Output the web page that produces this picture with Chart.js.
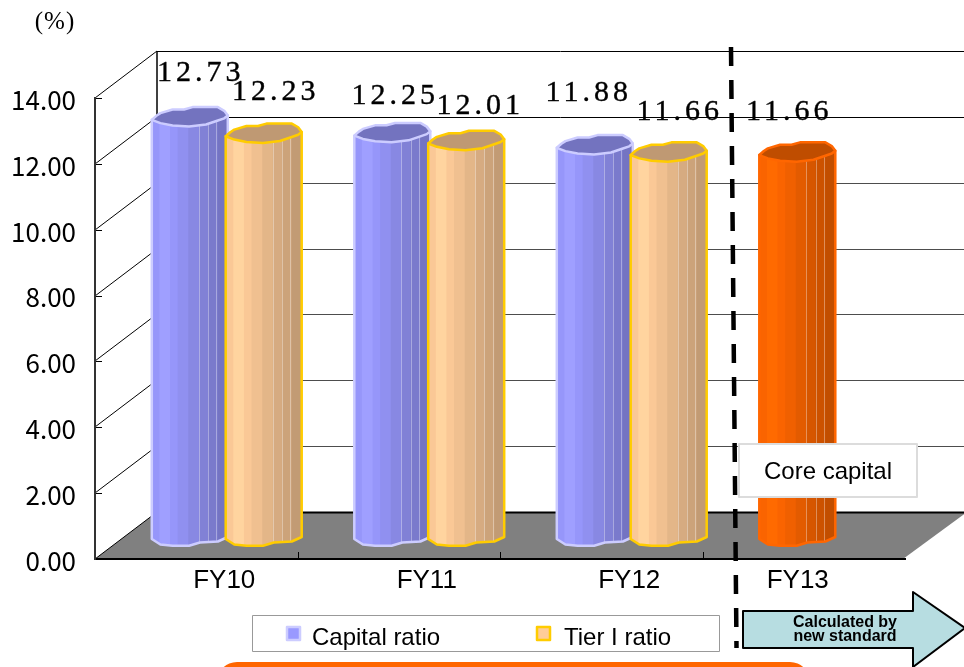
<!DOCTYPE html>
<html>
<head>
<meta charset="utf-8">
<style>html,body{margin:0;padding:0;background:#fff}canvas{display:block}</style>
<script src="https://cdn.jsdelivr.net/npm/chart.js@4"></script>
</head>
<body>
<canvas id="ratios" width="964" height="667"></canvas>
<script>
// Capital adequacy figures by fiscal year
const categories = ['FY10', 'FY11', 'FY12', 'FY13'];
const capitalRatio = [12.73, 12.25, 11.88, 11.66];
const tierOneRatio = [12.23, 12.01, 11.66, null];
const yTicks = [0, 2, 4, 6, 8, 10, 12, 14];
const seriesNames = ['Capital ratio', 'Tier I ratio'];

// Fills and outlines; the FY13 column is on the new standard and gets its own colour
const BLUE = '#9999ff', BLUE_EDGE = '#ccccff';
const TAN = '#ffcc99', TAN_EDGE = '#ffcc00';
const ORANGE = '#ff6600', ORANGE_EDGE = '#ff6600';

// Oblique projection of the box the columns stand in
const DEPTH_X = 62, DEPTH_Y = 47;
const BAR_SHIFT_X = 30.5, BAR_SHIFT_Y = 23;

// Outline of a column cap, px from its centre at a 75px column width
const CAP = [[-37.5,3],[-33,-1],[-29,-3.7],[-17,-7.3],[-5.7,-7.3],[2.7,-9.7],[27.7,-9.7],[34,-6],[37.5,-1.3],
             [34,1.5],[27.7,3.7],[16,7.7],[-0.7,9.7],[-17,8.7],[-29,6.3]];
const UNDER = [[-37.5,3],[-29,8.5],[-17,9.7],[-0.7,9.7],[10,6.5],[27.7,5.5],[37.5,1]];
// Shading bands across a column: [start fraction, brightness]
const BANDS = [[0,.98],[.1,1.04],[.24,.98],[.34,.94],[.48,.89],[.62,.84],[.74,.8],[.87,.76]];
const FACETS = [.62, .74, .85];

// Label nudges from the top of each column, per series
const LABEL_SHIFT = [
  [[11,-44],[3,-37],[-6,-52],[-8,-40]],
  [[12,-41],[14,-34],[11,-40]]
];

function shade(hex, k) {
  const n = parseInt(hex.slice(1), 16);
  const c = s => Math.min(255, Math.round(((n >> s) & 255) * k));
  return `rgb(${c(16)},${c(8)},${c(0)})`;
}

function trace(ctx, pts, cx, cy, scale, first) {
  pts.forEach(([dx, dy], i) => {
    const x = cx + dx * scale, y = cy + dy;
    if (first && i === 0) ctx.moveTo(x, y); else ctx.lineTo(x, y);
  });
}

function drawColumn(ctx, el) {
  const w = 76, scale = w / 75;
  const cx = el.x + BAR_SHIFT_X, top = el.y - BAR_SHIFT_Y, bottom = el.base - BAR_SHIFT_Y;
  const fill = el.options.backgroundColor, edge = el.options.borderColor;
  const left = cx - w / 2;
  const body = () => {
    ctx.beginPath();
    ctx.moveTo(left, top + 3);
    trace(ctx, UNDER, cx, bottom, scale, false);
    ctx.lineTo(left + w, top - 1.3);
    ctx.closePath();
  };
  ctx.save();
  body();
  ctx.clip();
  BANDS.forEach(([f, k], i) => {
    const next = i + 1 < BANDS.length ? BANDS[i + 1][0] : 1;
    ctx.fillStyle = shade(fill, k);
    ctx.fillRect(left + f * w, top - 12, (next - f) * w + 1, bottom - top + 30);
  });
  ctx.strokeStyle = 'rgba(255,255,255,.35)';
  ctx.lineWidth = 1;
  FACETS.forEach(f => {
    ctx.beginPath();
    ctx.moveTo(Math.round(left + f * w) + .5, top);
    ctx.lineTo(Math.round(left + f * w) + .5, bottom + 8);
    ctx.stroke();
  });
  ctx.restore();
  ctx.lineWidth = 2.5;
  ctx.lineJoin = 'round';
  ctx.strokeStyle = edge;
  body();
  ctx.stroke();
  ctx.beginPath();
  trace(ctx, CAP, cx, top, scale, true);
  ctx.closePath();
  ctx.fillStyle = shade(fill, .75);
  ctx.fill();
  ctx.stroke();
}

const boxPlugin = {
  id: 'box3d',
  beforeDraw(chart) {
    const { ctx, chartArea: a, scales: { x, y } } = chart;
    // FY13 sits under its own column rather than at the regular spacing
    x.getLabelItems()[3].options.translation[0] -= 34;
    ctx.save();
    ctx.fillStyle = '#808080';
    ctx.beginPath();
    ctx.moveTo(a.left, a.bottom);
    ctx.lineTo(a.right - 2, a.bottom);
    ctx.lineTo(a.right + DEPTH_X, a.bottom - DEPTH_Y);
    ctx.lineTo(a.left + DEPTH_X, a.bottom - DEPTH_Y);
    ctx.closePath();
    ctx.fill();
    ctx.lineWidth = 1;
    yTicks.forEach(v => {
      const py = Math.round(y.getPixelForValue(v));
      const by = py - DEPTH_Y;
      ctx.strokeStyle = (v === 0 || v >= 12) ? '#000' : '#4d4d4d';
      ctx.lineWidth = v === 0 ? 2 : 1;
      ctx.beginPath();
      ctx.moveTo(a.left + DEPTH_X, by + .5);
      ctx.lineTo(964, by + .5);
      ctx.stroke();
      ctx.strokeStyle = '#000';
      ctx.lineWidth = 1;
      ctx.beginPath();
      ctx.moveTo(a.left, py);
      ctx.lineTo(a.left + DEPTH_X, by);
      ctx.moveTo(a.left, py + .5);
      ctx.lineTo(a.left + 7, py + .5);
      ctx.stroke();
    });
    ctx.lineWidth = 1.5;
    ctx.beginPath();
    ctx.moveTo(a.left + DEPTH_X, y.getPixelForValue(14) - DEPTH_Y);
    ctx.lineTo(a.left + DEPTH_X, a.bottom - DEPTH_Y);
    ctx.stroke();
    ctx.lineWidth = 1;
    categories.forEach((_, i) => {
      if (!i) return;
      const px = Math.round(x.getPixelForValue(i) - (x.getPixelForValue(1) - x.getPixelForValue(0)) / 2) + .5;
      ctx.beginPath();
      ctx.moveTo(px, a.bottom);
      ctx.lineTo(px, a.bottom - 7);
      ctx.stroke();
    });
    ctx.restore();
  },
  beforeDatasetsDraw(chart) {
    const ctx = chart.ctx;
    [0, 1].forEach(d => chart.getDatasetMeta(d).data.forEach((el, i) => {
      if (chart.data.datasets[d].data[i] != null) drawColumn(ctx, el);
    }));
    return false;
  },
  afterDraw(chart) {
    const ctx = chart.ctx;
    ctx.save();

    // Value labels
    ctx.font = '30px "Liberation Serif"';
    ctx.fillStyle = '#000';
    ctx.strokeStyle = '#000';
    ctx.lineWidth = 0.4;
    ctx.textAlign = 'center';
    ctx.textBaseline = 'middle';
    ctx.letterSpacing = '4px';
    [0, 1].forEach(d => chart.getDatasetMeta(d).data.forEach((el, i) => {
      const v = chart.data.datasets[d].data[i];
      if (v == null) return;
      const [dx, dy] = LABEL_SHIFT[d][i];
      const lx = el.x + BAR_SHIFT_X + dx, ly = el.y - BAR_SHIFT_Y + dy;
      ctx.fillText(v.toFixed(2), lx, ly);
      ctx.strokeText(v.toFixed(2), lx, ly);
    }));
    ctx.letterSpacing = '0px';

    // Unit
    ctx.font = '25px "Liberation Serif"';
    ctx.letterSpacing = '1px';
    ctx.fillText('(%)', 55, 22);
    ctx.letterSpacing = '0px';

    // Divider between the two reporting standards
    ctx.strokeStyle = '#000';
    ctx.lineWidth = 4.5;
    ctx.setLineDash([19, 14]);
    ctx.beginPath();
    ctx.moveTo(731, 47);
    ctx.lineTo(736.5, 648);
    ctx.stroke();
    ctx.setLineDash([]);

    // Core capital callout
    ctx.fillStyle = '#fff';
    ctx.strokeStyle = '#dcdcdc';
    ctx.lineWidth = 2;
    ctx.fillRect(739, 444, 178, 53);
    ctx.strokeRect(739, 444, 178, 53);
    ctx.fillStyle = '#000';
    ctx.font = '24px "Liberation Sans"';
    ctx.fillText('Core capital', 828, 472);

    // Arrow pointing at the new-standard period
    ctx.fillStyle = '#b7dde1';
    ctx.strokeStyle = '#000';
    ctx.lineWidth = 2;
    ctx.beginPath();
    ctx.moveTo(743, 611);
    ctx.lineTo(913, 611);
    ctx.lineTo(913, 592);
    ctx.lineTo(965, 628);
    ctx.lineTo(913, 667);
    ctx.lineTo(913, 648);
    ctx.lineTo(743, 648);
    ctx.closePath();
    ctx.fill();
    ctx.stroke();
    ctx.fillStyle = '#000';
    ctx.font = 'bold 16px "Liberation Sans"';
    ctx.fillText('Calculated by', 845, 623);
    ctx.fillText('new standard', 845, 637);

    // Legend
    ctx.fillStyle = '#fff';
    ctx.strokeStyle = '#999';
    ctx.lineWidth = 1;
    ctx.fillRect(252.5, 615.5, 467, 36);
    ctx.strokeRect(252.5, 615.5, 467, 36);
    ctx.textAlign = 'left';
    ctx.font = '24px "Liberation Sans"';
    ctx.lineWidth = 2.5;
    [[287, 312, BLUE, BLUE_EDGE], [537, 564, TAN, TAN_EDGE]].forEach(([mx, tx, f, e], i) => {
      ctx.fillStyle = f;
      ctx.strokeStyle = e;
      ctx.fillRect(mx, 627, 13, 13);
      ctx.strokeRect(mx, 627, 13, 13);
      ctx.fillStyle = '#000';
      ctx.fillText(seriesNames[i], tx, 638);
    });

    // Banner running off the bottom edge
    ctx.fillStyle = '#ff6600';
    ctx.beginPath();
    ctx.roundRect(217, 662, 593, 40, 20);
    ctx.fill();
    ctx.restore();
  }
};

new Chart(document.getElementById('ratios'), {
  type: 'bar',
  data: {
    labels: categories,
    datasets: [
      { label: seriesNames[0], data: capitalRatio,
        backgroundColor: [BLUE, BLUE, BLUE, ORANGE],
        borderColor: [BLUE_EDGE, BLUE_EDGE, BLUE_EDGE, ORANGE_EDGE] },
      { label: seriesNames[1], data: tierOneRatio,
        backgroundColor: TAN, borderColor: TAN_EDGE }
    ]
  },
  options: {
    responsive: false,
    animation: false,
    devicePixelRatio: 1,
    layout: { padding: { top: 98, right: 59, left: 0, bottom: 0 } },
    datasets: { bar: { barPercentage: 1, categoryPercentage: 0.73 } },
    plugins: { legend: { display: false }, tooltip: { enabled: false } },
    scales: {
      x: {
        grid: { display: false, drawTicks: false },
        border: { color: '#000', width: 2 },
        afterFit: s => { s.height = 108; },
        ticks: { padding: 6, labelOffset: 28, maxRotation: 0, autoSkip: false, color: '#000',
                 font: { family: '"Liberation Sans"', size: 26 } }
      },
      y: {
        min: 0, max: 14,
        grid: { display: false, drawTicks: false },
        border: { color: '#333', width: 2 },
        afterFit: s => { s.width = 95; },
        afterBuildTicks: s => { s.ticks = yTicks.map(value => ({ value })); },
        ticks: { padding: 19, labelOffset: 2, color: '#000',
                 callback: v => Number(v).toFixed(2),
                 font: { family: '"Noto Sans CJK JP"', size: 26 } }
      }
    }
  },
  plugins: [boxPlugin]
});
</script>
</body>
</html>
